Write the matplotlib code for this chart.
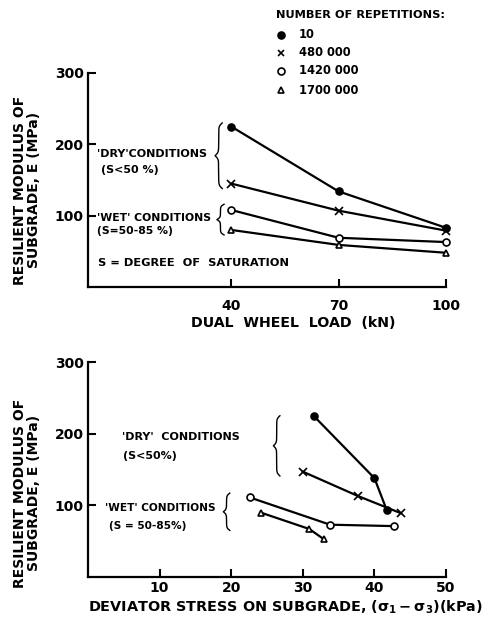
import numpy as np
import matplotlib
matplotlib.use("Agg")
import matplotlib.pyplot as plt

# ---- data ----
series_labels = ["10", "480 000", "1420 000", "1700 000"]
load_kN = [40, 70, 100]
E_load_10 = [225, 134, 83]
E_load_480k = [145, 107, 79]
E_load_1420k = [108, 69, 63]
E_load_1700k = [80, 59, 48]

dev_10 = [31.5, 40.0, 41.7]
E_dev_10 = [225, 138, 94]
dev_480k = [30.0, 37.7, 43.7]
E_dev_480k = [147, 113, 89]
dev_1420k = [22.6, 33.8, 42.8]
E_dev_1420k = [111, 73, 71]
dev_1700k = [24.1, 30.9, 32.9]
E_dev_1700k = [90, 67, 53]

markers = ["o", "x", "o", "^"]
fills = ["black", "none", "white", "white"]

W, H = 491, 618
fig = plt.figure(figsize=(W / 100, H / 100), dpi=100)
FONT = "DejaVu Sans"
plt.rcParams["font.family"] = FONT
plt.rcParams["font.weight"] = "bold"
plt.rcParams["mathtext.default"] = "bf"


def fx(px):
    return px / W


def fy(py):
    return 1 - py / H


def brace(ax, x, y0, y1, w, beta=40.0):
    # left-pointing curly brace, back at x, tip at x - w (data coords)
    n = 200
    s = np.linspace(0, 0.5, n)
    half = 1 / (1 + np.exp(-beta * (s - s[0]))) + 1 / (1 + np.exp(-beta * (s - s[-1])))
    prof = np.concatenate([half, half[::-1]]) - 0.5
    yy = np.linspace(y0, y1, 2 * n)
    xx = x - w * prof
    ax.plot(xx, yy, color="black", lw=1.0, clip_on=False)


def style(ax):
    for sp in ["top", "right"]:
        ax.spines[sp].set_visible(False)
    for sp in ["left", "bottom"]:
        ax.spines[sp].set_linewidth(1.6)
    ax.tick_params(direction="in", length=6, width=1.5, labelsize=10, pad=3)


# ---- top chart ----
ax1 = fig.add_axes([fx(88), fy(287), fx(446) - fx(88), fy(73) - fy(287)])
ys1 = [E_load_10, E_load_480k, E_load_1420k, E_load_1700k]
for y, m, f in zip(ys1, markers, fills):
    ax1.plot(load_kN, y, color="black", lw=1.6, marker=m, ms=5 if m != "x" else 6,
             mfc=f, mec="black", mew=1.2, clip_on=False)
ax1.set_xlim(0, 100)
ax1.set_ylim(0, 300)
ax1.set_xticks(load_kN)
ax1.set_yticks([100, 200, 300])
style(ax1)
ax1.tick_params(axis="x", pad=9)
ax1.set_xticklabels([str(v) for v in load_kN], fontweight="bold")
ax1.set_yticklabels(["100", "200", "300"], fontweight="bold")

ax1.text(2.5, 186, "'DRY'CONDITIONS", fontsize=8, fontweight="bold", va="center")
ax1.text(3.5, 164, "(S<50 %)", fontsize=8, fontweight="bold", va="center")
ax1.text(2.5, 97, "'WET' CONDITIONS", fontsize=7.8, fontweight="bold", va="center")
ax1.text(2.5, 78, "(S=50-85 %)", fontsize=7.8, fontweight="bold", va="center")
ax1.text(2.8, 33, "S = DEGREE  OF  SATURATION", fontsize=8.2, fontweight="bold", va="center")
brace(ax1, 37.5, 138, 230, 2.0)
brace(ax1, 38.0, 73, 116, 2.0, beta=30)
fig.text(fx(293), fy(323), "DUAL  WHEEL  LOAD  (kN)", fontsize=10.2, fontweight="bold",
         ha="center", va="center")

# legend
fig.text(fx(276), fy(15), "NUMBER OF REPETITIONS:", fontsize=8.2, fontweight="bold", va="center")
leg_y = [35, 53, 71, 90]
for yy, m, f, lab in zip(leg_y, markers, fills, series_labels):
    fig.lines.append(plt.Line2D([fx(281)], [fy(yy)], transform=fig.transFigure,
                                marker=m, ms=5, mfc=f, mec="black",
                                mew=1.2, ls="none"))
    fig.text(fx(299), fy(yy), lab, fontsize=8.3, fontweight="bold", va="center")

# ---- bottom chart ----
ax2 = fig.add_axes([fx(88), fy(577), fx(446) - fx(88), fy(362) - fy(577)])
xs2 = [dev_10, dev_480k, dev_1420k, dev_1700k]
ys2 = [E_dev_10, E_dev_480k, E_dev_1420k, E_dev_1700k]
for x, y, m, f in zip(xs2, ys2, markers, fills):
    ax2.plot(x, y, color="black", lw=1.6, marker=m, ms=5 if m != "x" else 6,
             mfc=f, mec="black", mew=1.2, clip_on=False)
ax2.set_xlim(0, 50)
ax2.set_ylim(0, 300)
ax2.set_xticks([10, 20, 30, 40, 50])
ax2.set_yticks([100, 200, 300])
style(ax2)
ax2.set_xticklabels(["10", "20", "30", "40", "50"], fontweight="bold")
ax2.set_yticklabels(["100", "200", "300"], fontweight="bold")

ax2.text(4.7, 195, "'DRY'  CONDITIONS", fontsize=8, fontweight="bold", va="center")
ax2.text(4.9, 169, "(S<50%)", fontsize=8, fontweight="bold", va="center")
ax2.text(2.4, 96, "'WET' CONDITIONS", fontsize=7.6, fontweight="bold", va="center")
ax2.text(3.0, 71, "(S = 50-85%)", fontsize=7.6, fontweight="bold", va="center")
brace(ax2, 26.8, 141, 225, 0.9)
brace(ax2, 19.8, 65, 117, 0.9, beta=30)
fig.text(fx(286), fy(607), r"DEVIATOR STRESS ON SUBGRADE, $(\sigma_1 - \sigma_3)$(kPa)",
         fontsize=10.4, fontweight="bold", ha="center", va="center")

# y labels
for axis, cy in [(ax1, 190), (ax2, 493)]:
    fig.text(fx(20), fy(cy), "RESILIENT MODULUS OF", rotation=90, fontsize=10,
             fontweight="bold", ha="center", va="center")
    fig.text(fx(34), fy(cy), "SUBGRADE, E (MPa)", rotation=90, fontsize=10,
             fontweight="bold", ha="center", va="center")

fig.savefig("out.png", dpi=100)
